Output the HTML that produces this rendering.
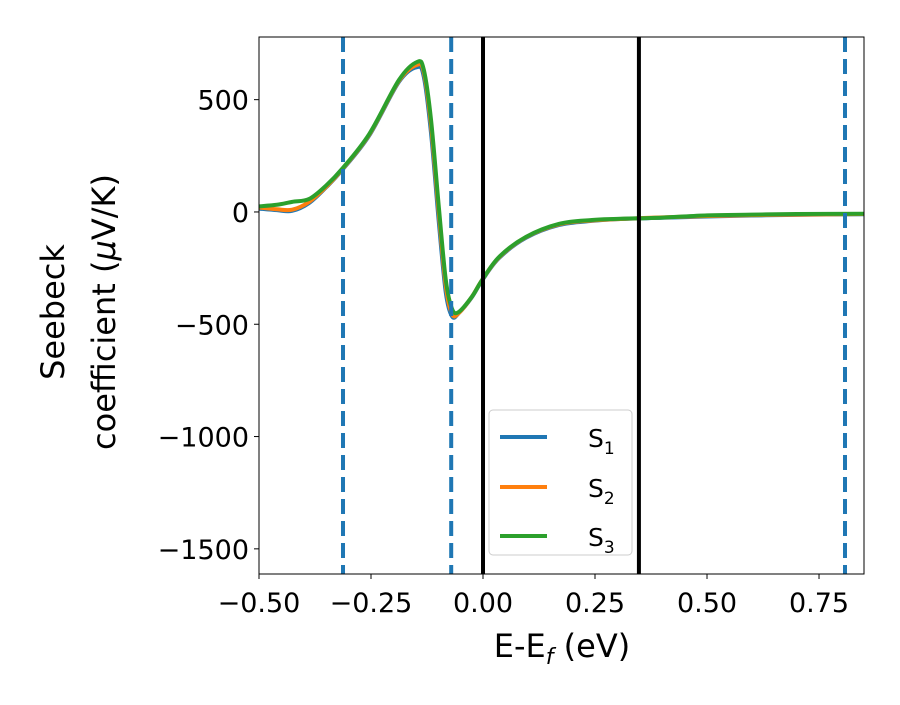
<!DOCTYPE html>
<html><head><meta charset="utf-8"><style>
body{margin:0;background:#fff}
svg text{font-family:"DejaVu Sans","Liberation Sans",sans-serif;fill:#000}
</style></head><body>
<svg id="chart" width="900" height="700" xmlns="http://www.w3.org/2000/svg">
<rect width="900" height="700" fill="#fff"/>
<g id="marks"></g>
<rect x="259" y="37" width="605" height="537" fill="none" stroke="#000" stroke-width="1"/>
<g id="ticks"></g>
<text x="562" y="657" font-size="32" text-anchor="middle">E-E<tspan font-size="22" font-style="italic" dy="7">f</tspan><tspan dy="-7"> (eV)</tspan></text>
<text transform="translate(64,312) rotate(-90)" font-size="32" text-anchor="middle">Seebeck</text>
<text transform="translate(115,312) rotate(-90)" font-size="32" text-anchor="middle">coefficient  (<tspan font-style="italic">μ</tspan>V/K)</text>
<g>
<rect x="489" y="410" width="143" height="145" rx="4" fill="#fff" fill-opacity="0.85" stroke="#ccc"/>
<line x1="500" y1="437" x2="547" y2="437" stroke="#1f77b4" stroke-width="4"/>
<text x="588" y="447" font-size="25">S<tspan font-size="17" dy="7">1</tspan></text>
<line x1="500" y1="487" x2="547" y2="487" stroke="#ff7f0e" stroke-width="4"/>
<text x="588" y="497" font-size="25">S<tspan font-size="17" dy="7">2</tspan></text>
<line x1="500" y1="536" x2="547" y2="536" stroke="#2ca02c" stroke-width="4"/>
<text x="588" y="546" font-size="25">S<tspan font-size="17" dy="7">3</tspan></text>
</g>
</svg>
<script>
const energies=[-0.5,-0.46,-0.426,-0.388,-0.35,-0.315,-0.254,-0.1875,-0.147,-0.132,-0.116,-0.098,-0.083,-0.069,-0.054,-0.025,-0.002,0.036,0.096,0.17,0.243,0.3,0.4,0.5,0.6,0.7,0.85];
const s1=[15,8,5,40,110,185,340,580,645,600,350,-60,-360,-465,-450,-380,-305,-205,-115,-58,-40,-32,-26,-20,-16,-13,-10];
const s2=[20,12,10,45,112,188,344,584,655,620,385,-20,-330,-455,-450,-378,-303,-202,-112,-55,-38,-32,-24,-18,-14,-12,-9];
const s3=[25,32,45,58,118,191,347,588,668,632,410,9,-303,-432,-445,-378,-303,-200,-111,-53,-36,-31,-25,-15,-12,-9,-8];
const vDashed=[-0.3125,-0.071,0.808];
const vSolid=[0,0.348];
const xTicks=[-0.5,-0.25,0,0.25,0.5,0.75];
const xTickLabels=["−0.50","−0.25","0.00","0.25","0.50","0.75"];
const yTicks=[500,0,-500,-1000,-1500];
const yTickLabels=["500","0","−500","−1000","−1500"];
const X0=259,X1=864,Y0=37,Y1=574,xmin=-0.5,xmax=0.8504,ymin=-1612,ymax=779;
const xs=v=>X0+(v-xmin)/(xmax-xmin)*(X1-X0);
const ys=v=>Y1-(v-ymin)/(ymax-ymin)*(Y1-Y0);
const NS="http://www.w3.org/2000/svg";
const marks=document.getElementById('marks'),ticks=document.getElementById('ticks');
function mk(tag,attrs,parent){const e=document.createElementNS(NS,tag);for(const k in attrs)e.setAttribute(k,attrs[k]);parent.appendChild(e);return e;}
function smooth(xsA,ysA){let d=`M${xs(xsA[0])},${ys(ysA[0])}`;const P=xsA.map((x,i)=>[xs(x),ys(ysA[i])]);
for(let i=0;i<P.length-1;i++){const p0=P[Math.max(0,i-1)],p1=P[i],p2=P[i+1],p3=P[Math.min(P.length-1,i+2)];
const c1=[p1[0]+(p2[0]-p0[0])/6,p1[1]+(p2[1]-p0[1])/6],c2=[p2[0]-(p3[0]-p1[0])/6,p2[1]-(p3[1]-p1[1])/6];
d+=` C${c1[0]},${c1[1]} ${c2[0]},${c2[1]} ${p2[0]},${p2[1]}`;}return d;}
const series=[[s1,'#1f77b4','series-s1'],[s2,'#ff7f0e','series-s2'],[s3,'#2ca02c','series-s3']];
series.forEach(([arr,c,n])=>{const p=mk('path',{d:smooth(energies,arr),fill:'none',stroke:c,'stroke-width':4,'stroke-linejoin':'round'},marks);

});
vDashed.forEach(v=>{const l=mk('line',{x1:xs(v),x2:xs(v),y1:Y0,y2:Y1,stroke:'#1f77b4','stroke-width':4,'stroke-dasharray':'15,7'},marks);

});
vSolid.forEach(v=>{const l=mk('line',{x1:xs(v),x2:xs(v),y1:Y0,y2:Y1,stroke:'#000','stroke-width':4},marks);

});
xTicks.forEach((v,i)=>{mk('line',{x1:xs(v),x2:xs(v),y1:Y1,y2:Y1+5,stroke:'#000'},ticks);
const t=mk('text',{x:xs(v),y:Y1+38,'font-size':27,'text-anchor':'middle'},ticks);t.textContent=xTickLabels[i];

});
yTicks.forEach((v,i)=>{mk('line',{x1:X0-5,x2:X0,y1:ys(v),y2:ys(v),stroke:'#000'},ticks);
const t=mk('text',{x:X0-10,y:ys(v)+10,'font-size':27,'text-anchor':'end'},ticks);t.textContent=yTickLabels[i];

});
</script>
</body></html>
